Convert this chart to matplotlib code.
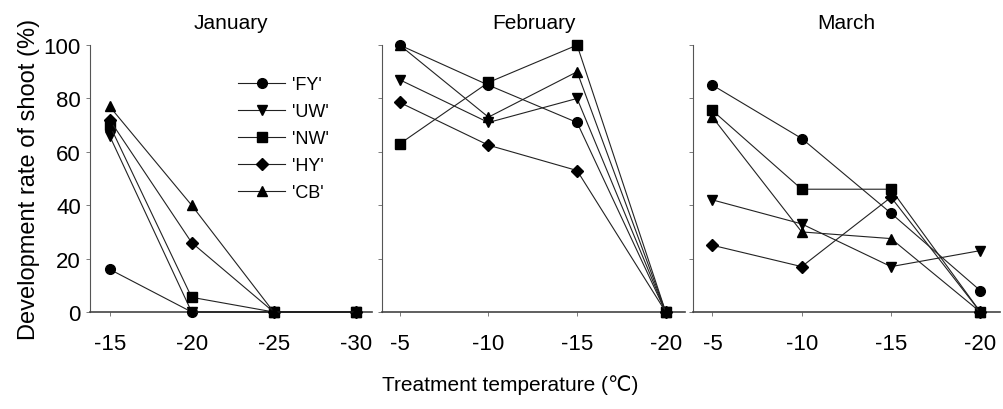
import matplotlib
matplotlib.use("Agg")
import matplotlib.pyplot as plt

plt.rcParams['font.family'] = ['Liberation Sans', 'DejaVu Sans']

# data
cultivars = ["'FY'", "'UW'", "'NW'", "'HY'", "'CB'"]
markers = ['o', 'v', 's', 'D', '^']

months = ['January', 'February', 'March']
temps_jan = [-15, -20, -25, -30]
temps_feb = [-5, -10, -15, -20]
temps_mar = [-5, -10, -15, -20]

jan = {
    "'FY'": [16, 0, 0, 0],
    "'UW'": [66, 0, 0, 0],
    "'NW'": [70, 5.5, 0, 0],
    "'HY'": [72, 26, 0, 0],
    "'CB'": [77, 40, 0, 0],
}
feb = {
    "'FY'": [100, 85, 71, 0],
    "'UW'": [87, 71, 80, 0],
    "'NW'": [63, 86, 100, 0],
    "'HY'": [78.5, 62.5, 53, 0],
    "'CB'": [100, 73, 90, 0],
}
mar = {
    "'FY'": [85, 65, 37, 8],
    "'UW'": [42, 33, 17, 23],
    "'NW'": [75.5, 46, 46, 0],
    "'HY'": [25, 17, 43, 0],
    "'CB'": [73, 30, 27.5, 0],
}

fig = plt.figure(figsize=(10.04, 4.10), dpi=100)
rects = [
    [0.0896, 0.2366, 0.281, 0.651],
    [0.3805, 0.2366, 0.302, 0.651],
    [0.6900, 0.2366, 0.306, 0.651],
]
xlims = [(-13.8, -31.0), (-4.0, -21.1), (-3.9, -21.1)]
sets = [(temps_jan, jan), (temps_feb, feb), (temps_mar, mar)]

for i, (rect, (temps, data), month) in enumerate(zip(rects, sets, months)):
    ax = fig.add_axes(rect)
    for name, mk in zip(cultivars, markers):
        ax.plot(temps, data[name], color='#222222', lw=0.8, marker=mk,
                ms=7 if mk != 'D' else 6.5, mfc='black', mec='black',
                clip_on=False, label=name, zorder=3)
    ax.set_xlim(*xlims[i])
    ax.set_ylim(0, 100)
    ax.set_xticks(temps)
    ax.set_xticklabels([str(t) for t in temps])
    ax.set_yticks([0, 20, 40, 60, 80, 100])
    ax.spines['top'].set_visible(False)
    ax.spines['right'].set_visible(False)
    ax.spines['left'].set_color('#555555')
    ax.spines['left'].set_linewidth(0.8)
    ax.spines['bottom'].set_color('#444444')
    ax.spines['bottom'].set_linewidth(1.2)
    ax.tick_params(axis='both', direction='out', length=3, width=0.6,
                   color='#666666', labelsize=16)
    ax.tick_params(axis='x', pad=12)
    ax.set_title(month, fontsize=15, pad=12)
    if i == 0:
        ax.set_ylabel('Development rate of shoot (%)', fontsize=17, labelpad=3)
        ax.legend(loc='upper left', bbox_to_anchor=(0.5, 0.91), frameon=False,
                  fontsize=13, handlelength=2.6, labelspacing=0.55,
                  handletextpad=0.4, borderaxespad=0)
    else:
        ax.set_yticklabels([])

fig.text(0.508, 0.06, 'Treatment temperature (\u2103)', ha='center',
         va='center', fontsize=15)

fig.savefig('out.png', dpi=100)
